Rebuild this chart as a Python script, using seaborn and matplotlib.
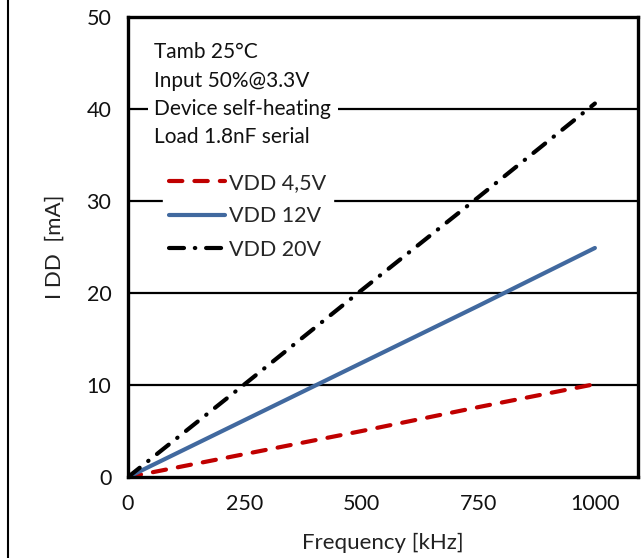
import numpy as np
import pandas as pd
import matplotlib
matplotlib.use("Agg")
import matplotlib.pyplot as plt
from matplotlib.lines import Line2D
import seaborn as sns

# values
freq_khz = [0, 250, 500, 750, 1000]
idd_4v5 = [0, 2.5, 5.0, 7.6, 10.1]
idd_12v = [0, 6.2, 12.4, 18.6, 24.9]
idd_20v = [0, 10.1, 20.3, 30.4, 40.6]
series_names = ["VDD 4,5V", "VDD 12V", "VDD 20V"]
x_ticks = [0, 250, 500, 750, 1000]
y_ticks = [0, 10, 20, 30, 40, 50]
notes = ["Tamb 25°C", "Input 50%@3.3V", "Device self-heating", "Load 1.8nF serial"]

sns.set_style("white")
plt.rcParams['font.family'] = ['Lato', 'DejaVu Sans']

df = pd.DataFrame({
    "freq": freq_khz * 3,
    "idd": idd_4v5 + idd_12v + idd_20v,
    "series": [s for s in series_names for _ in freq_khz],
})

fig = plt.figure(figsize=(6.43, 5.58), dpi=100)
ax = fig.add_axes([0.199, 0.145, 0.793, 0.8245])

palette = {"VDD 4,5V": "#C00000", "VDD 12V": "#41699F", "VDD 20V": "#000000"}
dashes = {"VDD 4,5V": (3.2, 2.9), "VDD 12V": "", "VDD 20V": (3.6, 2.6, 0.1, 2.6)}
sns.lineplot(data=df, x="freq", y="idd", hue="series", style="series",
             palette=palette, dashes=dashes, linewidth=3.0, ax=ax,
             legend=False, zorder=3)
for ln in ax.get_lines():
    ln.set_dash_capstyle("round")
    ln.set_solid_capstyle("round")

ax.set_xlim(0, 1092)
ax.set_ylim(0, 50)
ax.set_xticks(x_ticks)
ax.set_yticks(y_ticks)
ax.tick_params(length=0, labelsize=15.5, pad=12, colors="#111111")
for y in y_ticks[1:-1]:
    ax.axhline(y, color="black", lw=1.6, zorder=1)
for sp in ax.spines.values():
    sp.set_linewidth(2.4)
    sp.set_color("black")
    sp.set_zorder(4)

ax.set_xlabel("Frequency [kHz]", fontsize=16, color="#222222", labelpad=14)
ax.set_ylabel("I DD  [mA]", fontsize=16, color="#222222", labelpad=16)

ax.text(0.052, 0.945, "\n".join(notes), transform=ax.transAxes, fontsize=15,
        va="top", ha="left", linespacing=1.52, color="#111111", zorder=5,
        bbox=dict(facecolor="white", edgecolor="none", pad=5))

handles = [Line2D([], [], color=palette[s], lw=3.0, dashes=dashes[s] if dashes[s] else (None, None),
                  dash_capstyle="round", solid_capstyle="round") for s in series_names]
leg = ax.legend(handles, series_names, loc="upper left", bbox_to_anchor=(0.068, 0.675),
                frameon=True, fontsize=15.5, handlelength=2.6, handletextpad=0.2,
                labelspacing=0.62, borderaxespad=0, borderpad=0.3)
leg.get_frame().set_edgecolor("white")
leg.get_frame().set_facecolor("white")
leg.get_frame().set_alpha(1)
leg.set_zorder(5)

fig.add_artist(Line2D([8 / 643, 8 / 643], [0, 1], color="black", lw=1.5))

fig.savefig("out.png", dpi=100)
